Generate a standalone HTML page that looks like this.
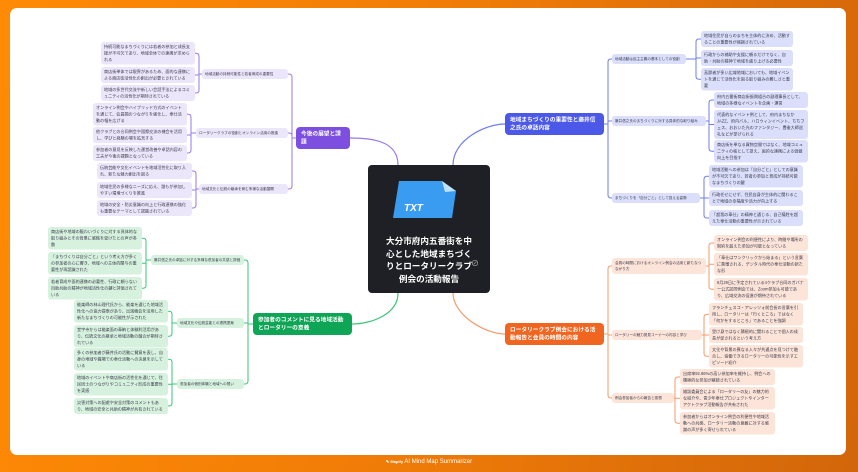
<!DOCTYPE html>
<html><head><meta charset="utf-8">
<style>
*{margin:0;padding:0;box-sizing:border-box}
html,body{width:858px;height:472px;overflow:hidden}
body{background:linear-gradient(100deg,#ff8a05 0%,#f07c08 50%,#d2660a 100%);font-family:"Liberation Sans","Noto Sans CJK JP",sans-serif;position:relative}
#card{position:absolute;left:10px;top:8px;width:836px;height:447px;background:#fff;border-radius:7px}
.n{position:absolute;left:calc(var(--x)*1px);top:calc(var(--y)*1px);width:calc(var(--w)*2px);transform:scale(.5);transform-origin:0 0;color:#3a3a4a}
.lf{font-size:8.2px;line-height:13px;padding:3px 6px;border-radius:6px}
.sb{font-size:7.2px;line-height:12px;padding:4px 6px;border-radius:6px}
.nw{white-space:nowrap}
.mn{font-size:11.4px;line-height:16px;padding:6px 10px;border-radius:8px;color:#fff;font-weight:bold}
.p{background:#ece6fb}.pm{background:#7d4fe0}
.bl{background:#dcdffb}.bm{background:#4b58e8}
.g{background:#d6f1de}.gm{background:#0ea556}
.o{background:#fde4d9}.om{background:#f0651f}
#c{position:absolute;left:368px;top:165px;width:122px;height:128px;background:#1f2025;border-radius:4px}
#ct{position:absolute;left:0;top:70px;width:122px;text-align:center;color:#fff;font-weight:bold;font-size:8.6px;line-height:12.6px}
svg{position:absolute;left:0;top:0}
#ft{position:absolute;left:0;top:459px;width:858px;text-align:center;color:#fff;font-size:6px}
</style></head><body>
<div id="card"></div>
<svg id="lines" width="858" height="472"></svg>

<div id="c">
<svg width="122" height="60" style="left:0;top:0">
<path d="M31 16 H74 L88 26 L84 53 H25 Z" fill="#3a9cf0"/>
<path d="M74 16 L88 26 L77 27 Z" fill="#bfe3ff"/>
<text x="36" y="46" fill="#fff" font-size="10" font-style="italic" font-weight="bold" font-family="Liberation Sans">TXT</text>
</svg>
<div id="ct">大分市府内五番街を中<br>心とした地域まちづく<br>りとロータリークラブ<br>例会の活動報告</div>
<div style="position:absolute;left:103px;top:93px;color:#bbb;font-size:8px">⊘</div>
</div>

<!-- purple -->
<div id="pm" class="n mn pm" style="--x:296;--y:127;--w:54">今後の展望と課題</div>
<div id="ps1" class="n sb p nw" style="--x:202;--y:69;--w:86">地域活動の持続可能性と若者育成の重要性</div>
<div id="ps2" class="n sb p" style="--x:196;--y:128;--w:92">ロータリークラブの役割とオンライン活用の推進</div>
<div id="ps3" class="n sb p nw" style="--x:199;--y:184;--w:89">地域文化と伝統の継承を育む多様な活動展開</div>
<div id="pl1" class="n lf p" style="--x:101;--y:42;--w:94">持続可能なまちづくりには若者の参加と成長支援が不可欠であり、地域全体での連携が求められる</div>
<div id="pl2" class="n lf p" style="--x:101;--y:67;--w:94">商店街単体では限界があるため、面的な連携による商店街活性化の創出が必要とされている</div>
<div id="pl3" class="n lf p" style="--x:101;--y:85;--w:94">地域の多世代交流や新しい会話手法によるコミュニティの活性化が期待されている</div>
<div id="pl4" class="n lf p" style="--x:93;--y:103;--w:94">オンライン例会やハイブリッド方式のイベントを通じて、会員間のつながりを強化し、奉仕活動の幅を広げる</div>
<div id="pl5" class="n lf p" style="--x:93;--y:127;--w:94">他クラブとの合同例会や国際交流の機会を活用し、学びと経験の場を拡充する</div>
<div id="pl6" class="n lf p" style="--x:93;--y:145;--w:94">参加者の意見を反映した運営改善や卓話内容の工夫が今後の課題となっている</div>
<div id="pl7" class="n lf p" style="--x:97;--y:163;--w:95">伝統芸能や文化イベントを地域活性化に取り入れ、新たな魅力創出を図る</div>
<div id="pl8" class="n lf p" style="--x:97;--y:182;--w:95">地域住民の多様なニーズに応え、誰もが参加しやすい環境づくりを推進</div>
<div id="pl9" class="n lf p" style="--x:97;--y:200;--w:95">地域の安全・防災意識の向上と行政連携の強化も重要なテーマとして認識されている</div>

<!-- blue -->
<div id="bm" class="n mn bm" style="--x:505;--y:113;--w:99">地域まちづくりの重要性と藤井信之氏の卓話内容</div>
<div id="bs1" class="n sb bl nw" style="--x:612;--y:54;--w:74">地域活動は民主主義の基本としての役割</div>
<div id="bs2" class="n sb bl" style="--x:612;--y:116;--w:94">藤井信之氏のまちづくりに対する具体的な取り組み</div>
<div id="bs3" class="n sb bl nw" style="--x:612;--y:193;--w:88">まちづくりを「自分ごと」として捉える姿勢</div>
<div id="bl1" class="n lf bl" style="--x:701;--y:31;--w:92">地域住民が自らのまちを主体的に決め、活動することの重要性が強調されている</div>
<div id="bl2" class="n lf bl" style="--x:701;--y:50;--w:92">行政からの補助や支援に頼るだけでなく、自助・共助の精神で地域を盛り上げる必要性</div>
<div id="bl3" class="n lf bl" style="--x:701;--y:68;--w:92">高齢者が多い広域地域においても、地域イベントを通じて活性化を図る取り組みの難しさと重要</div>
<div id="bl4" class="n lf bl" style="--x:714;--y:92;--w:94">府内五番街商店街振興組合の副理事長として、地域の多様なイベントを企画・運営</div>
<div id="bl5" class="n lf bl" style="--x:714;--y:110;--w:94">代表的なイベント例として、府内まちなかJAZZ、府内バル、ハロウィンイベント、ちちフェス、おおいた光のファンタジー、豊後大師巡礼などが挙げられる</div>
<div id="bl6" class="n lf bl" style="--x:714;--y:140;--w:94">商店街を単なる買物空間ではなく、地域コミュニティの核として捉え、面的な連携による価値向上を目指す</div>
<div id="bl7" class="n lf bl" style="--x:709;--y:165;--w:94">地域活動への参加は「自分ごと」としての意識が不可欠であり、若者の参加と育成が持続可能なまちづくりの鍵</div>
<div id="bl8" class="n lf bl" style="--x:709;--y:190;--w:94">行政任せにせず、住民自身が主体的に関わることで地域の幸福度や活力が向上する</div>
<div id="bl9" class="n lf bl" style="--x:709;--y:210;--w:94">「超我の奉仕」の精神と通じる、自己犠牲を超えた奉仕活動の重要性が示されている</div>

<!-- green -->
<div id="gm" class="n mn gm" style="--x:253;--y:313;--w:99">参加者のコメントに見る地域活動とロータリーの意義</div>
<div id="gs1" class="n sb g" style="--x:151;--y:255;--w:93">藤井信之氏の卓話に対する多様な参加者の共感と評価</div>
<div id="gs2" class="n sb g nw" style="--x:177;--y:318;--w:67">地域文化や伝統芸能との連携提案</div>
<div id="gs3" class="n sb g nw" style="--x:177;--y:379;--w:67">参加者の個別体験と地域への想い</div>
<div id="gl1" class="n lf g" style="--x:48;--y:227;--w:94">商店街や地域の賑わいづくりに対する具体的な取り組みとその背景に感銘を受けたとの声が多数</div>
<div id="gl2" class="n lf g" style="--x:48;--y:252;--w:94">「まちづくりは自分ごと」という考え方が多くの参加者の心に響き、地域への主体的関与の重要性が再認識された</div>
<div id="gl3" class="n lf g" style="--x:48;--y:277;--w:94">若者育成や面的連携の必要性、行政に頼らない自助共助の精神が地域活性化の鍵と評価されている</div>
<div id="gl4" class="n lf g" style="--x:74;--y:300;--w:94">能楽師の林山理代氏から、能楽を通じた地域活性化への協力提案があり、出演機会を活用した新たなまちづくりの可能性が示された</div>
<div id="gl5" class="n lf g" style="--x:74;--y:325;--w:94">堂宇寺からは能楽面の奉納と体験利活用があり、伝統文化の継承と地域活動の融合が期待されている</div>
<div id="gl6" class="n lf g" style="--x:74;--y:348;--w:94">多くの参加者が藤井氏の活動に賛意を表し、自身の地域や職場での奉仕活動への決意を示している</div>
<div id="gl7" class="n lf g" style="--x:74;--y:373;--w:94">地域のイベントや商店街の活性化を通じて、住民同士のつながりやコミュニティ形成の重要性を実感</div>
<div id="gl8" class="n lf g" style="--x:74;--y:398;--w:94">災害対策への配慮や安全対策のコメントもあり、地域の安全と共助の精神が共有されている</div>

<!-- orange -->
<div id="om" class="n mn om" style="--x:505;--y:323;--w:99">ロータリークラブ例会における活動報告と会員の時間の内容</div>
<div id="os1" class="n sb o" style="--x:612;--y:258;--w:94">会員の時間におけるオンライン例会の活用と新たなつながり方</div>
<div id="os2" class="n sb o nw" style="--x:612;--y:330;--w:90">ロータリーの魅力発見コーナーの内容と学び</div>
<div id="os3" class="n sb o nw" style="--x:612;--y:393;--w:62">例会参加者からの報告と感想</div>
<div id="ol1" class="n lf o" style="--x:714;--y:235;--w:94">オンライン例会の利便性により、時間や場所の制約を超えた参加が可能となっている</div>
<div id="ol2" class="n lf o" style="--x:714;--y:253;--w:94">「奉仕はワンクリックから始まる」という言葉に象徴される、デジタル時代の奉仕活動の新たな形</div>
<div id="ol3" class="n lf o" style="--x:714;--y:278;--w:94">9月29日に予定されている4クラブ合同のガバナー公式訪問例会では、Zoom参加も可能であり、広域交流の促進が期待されている</div>
<div id="ol4" class="n lf o" style="--x:709;--y:303;--w:94">フランチェスコ・アレッツォ前会長の言葉を引用し、ロータリーは「行くところ」ではなく「何かをするところ」であることを強調</div>
<div id="ol5" class="n lf o" style="--x:709;--y:327;--w:94">受け身ではなく積極的に関わることで個人の成長が促されるという考え方</div>
<div id="ol6" class="n lf o" style="--x:709;--y:345;--w:94">文化や背景の異なる人々が共通点を見つけて融合し、協働できるロータリーの可能性を示すエピソード紹介</div>
<div id="ol7" class="n lf o" style="--x:680;--y:369;--w:95">出席率92.86%の高い参加率を維持し、例会への積極的な参加が継続されている</div>
<div id="ol8" class="n lf o" style="--x:680;--y:387;--w:95">雑誌委員会による「ロータリーの友」の魅力的な紹介や、青少年奉仕プロジェクトやインターアクトクラブ活動報告が共有された</div>
<div id="ol9" class="n lf o" style="--x:680;--y:412;--w:95">参加者からはオンライン例会の利便性や地域活動への共感、ロータリー活動の意義に対する感謝の声が多く寄せられている</div>

<div id="ft"><span style="font-weight:bold;font-size:4px">✎ Mapify</span> AI Mind Map Summarizer</div>

<script>
(function(){
var svg=document.getElementById('lines');var out='';
function R(id){return document.getElementById(id).getBoundingClientRect();}
function grp(p,cs,side,col,gap){
  var a=R(p);var py=a.top+a.height/2;var px=side>0?a.right:a.left;
  cs.forEach(function(c){var b=R(c);var cy=b.top+b.height/2;var cx=side>0?b.left:b.right;
    var sx=cx-side*gap;var d='M'+px+','+py+' H'+sx;
    if(Math.abs(cy-py)>4){var s=cy>py?1:-1;d+=' V'+(cy-s*3)+' Q'+sx+','+cy+' '+(sx+side*3)+','+cy;}
    else d+=' V'+cy;
    d+=' H'+cx;
    out+='<path d="'+d+'" fill="none" stroke="'+col+'" stroke-width="1"/>';});
}
var P='#9a78ea',B='#6f7cf0',G='#3cc47a',O='#f5996a';
grp('pm',['ps1','ps2','ps3'],-1,P,4);
grp('ps1',['pl1','pl2','pl3'],-1,P,4);
grp('ps2',['pl4','pl5','pl6'],-1,P,4);
grp('ps3',['pl7','pl8','pl9'],-1,P,4);
grp('bm',['bs1','bs2','bs3'],1,B,4);
grp('bs1',['bl1','bl2','bl3'],1,B,5);
grp('bs2',['bl4','bl5','bl6'],1,B,5);
grp('bs3',['bl7','bl8','bl9'],1,B,5);
grp('gm',['gs1','gs2','gs3'],-1,G,4);
grp('gs1',['gl1','gl2','gl3'],-1,G,4);
grp('gs2',['gl4','gl5'],-1,G,4);
grp('gs3',['gl6','gl7','gl8'],-1,G,4);
grp('om',['os1','os2','os3'],1,O,4);
grp('os1',['ol1','ol2','ol3'],1,O,5);
grp('os2',['ol4','ol5','ol6'],1,O,5);
grp('os3',['ol7','ol8','ol9'],1,O,5);
function mid(id){var r=R(id);return r.top+r.height/2;}
out+='<path d="M398,165 C398,140 370,'+mid('pm')+' 350,'+mid('pm')+'" fill="none" stroke="'+P+'" stroke-width="1.2"/>';
out+='<path d="M453,165 C453,140 485,'+mid('bm')+' 505,'+mid('bm')+'" fill="none" stroke="'+B+'" stroke-width="1.2"/>';
out+='<path d="M398,293 C398,315 370,'+mid('gm')+' 352,'+mid('gm')+'" fill="none" stroke="'+G+'" stroke-width="1.2"/>';
out+='<path d="M453,293 C453,315 485,'+mid('om')+' 505,'+mid('om')+'" fill="none" stroke="'+O+'" stroke-width="1.2"/>';
svg.innerHTML=out;
})();
</script>
</body></html>
